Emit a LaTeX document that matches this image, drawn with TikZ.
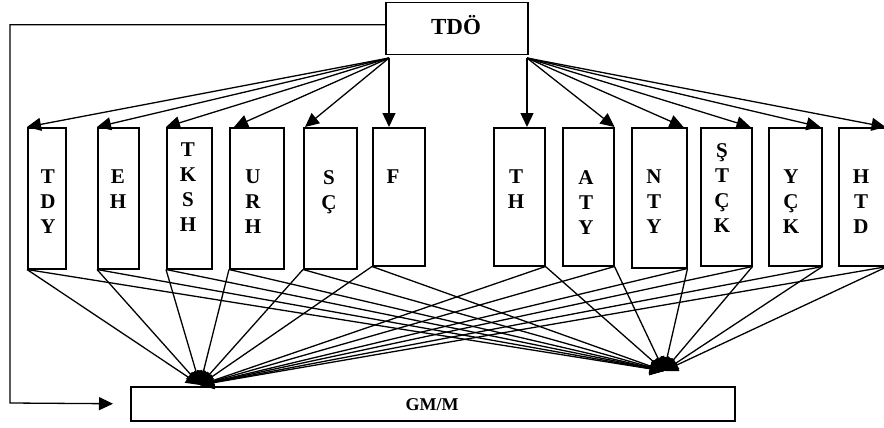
\documentclass[tikz,border=0pt]{standalone}
\usepackage{fontspec}
\setmainfont{Liberation Serif}
\usetikzlibrary{arrows.meta}
\begin{document}
\begin{tikzpicture}[x=1pt,y=-1pt,
  sbox/.style={draw, line width=1.5pt, inner sep=0pt, anchor=north west},
  lbl/.style={font=\fontsize{21}{25}\selectfont\bfseries, align=center, anchor=north, inner sep=0pt},
  arr/.style={-{Triangle[length=14pt,width=13pt]}, line width=1.3pt}]
\path[use as bounding box, clip] (0,0) rectangle (884,428);
% top box
\node[sbox, minimum width=142pt, minimum height=52pt] (tdo) at (385,2) {};
\node[font=\fontsize{23}{26}\selectfont\bfseries] (tdot) at (456,25) {TDÖ};
% middle boxes
\node[sbox, minimum width=38pt, minimum height=141pt] (tdy) at (27,127) {};
\node[sbox, minimum width=41pt, minimum height=141pt] (eh) at (97,127) {};
\node[sbox, minimum width=45pt, minimum height=141pt] (tksh) at (166,127) {};
\node[sbox, minimum width=54pt, minimum height=141pt] (urh) at (229,127) {};
\node[sbox, minimum width=53pt, minimum height=141pt] (sc) at (303,127) {};
\node[sbox, minimum width=52pt, minimum height=138pt] (f) at (372,127) {};
\node[sbox, minimum width=51pt, minimum height=138pt] (th) at (493,127) {};
\node[sbox, minimum width=51pt, minimum height=138pt] (aty) at (562,127) {};
\node[sbox, minimum width=55pt, minimum height=140pt] (nty) at (631,127) {};
\node[sbox, minimum width=51pt, minimum height=138pt] (stck) at (700,127) {};
\node[sbox, minimum width=53pt, minimum height=138pt] (yck) at (768,127) {};
\node[sbox, minimum width=48pt, minimum height=138pt] (htd) at (838,127) {};
% labels
\node[lbl] (tdyt) at (48,170) {T\\D\\Y};
\node[lbl] (eht) at (118,170) {E\\H};
\node[lbl] (tksht) at (188,143) {T\\K\\S\\H};
\node[lbl] (urht) at (253,170) {U\\R\\H};
\node[lbl] (sct) at (329,170) {S\\Ç};
\node[lbl] (ft) at (393,170) {F};
\node[lbl] (tht) at (516,170) {T\\H};
\node[lbl] (atyt) at (586,170) {A\\T\\Y};
\node[lbl] (ntyt) at (654,170) {N\\T\\Y};
\node[lbl] (stckt) at (722,143) {Ş\\T\\Ç\\K};
\node[lbl] (yckt) at (791,170) {Y\\Ç\\K};
\node[lbl] (htdt) at (861,170) {H\\T\\D};
% bottom box
\node[sbox, minimum width=604pt, minimum height=34pt] (gm) at (130,386) {};
\node[font=\fontsize{18}{20}\selectfont\bfseries] (gmt) at (432,405) {GM/M};
% coordinates
\coordinate (fl) at (389,58);
\coordinate (fr) at (527,58);
\coordinate (L) at (200,385);
\coordinate (R) at (664,371);
\coordinate (fb) at (10,403);
% fan from TDO
\draw[arr] (fl) -- (tdy.north west);
\draw[arr] (fl) -- (eh.north west);
\draw[arr] (fl) -- (tksh.north west);
\draw[arr] (fl) -- ([xshift=5pt]urh.north west);
\draw[arr] (fl) -- ([xshift=2pt]sc.north west);
\draw[arr] (fl) -- (fl |- f.north);
\draw[arr] (fr) -- (fr |- th.north);
\draw[arr] (fr) -- (aty.north east);
\draw[arr] (fr) -- ([xshift=-4pt]nty.north east);
\draw[arr] (fr) -- ([xshift=-2pt]stck.north east);
\draw[arr] (fr) -- ([xshift=-2pt]yck.north east);
\draw[arr] (fr) -- ([xshift=-2pt]htd.north east);
% to GM/M
\foreach \n in {tdy,eh,tksh,urh,sc,f} {
  \draw[arr] (\n.south west) -- (L);
  \draw[arr] (\n.south west) -- (R);
}
\foreach \n in {th,aty,nty,stck,yck,htd} {
  \draw[arr] (\n.south east) -- (L);
  \draw[arr] (\n.south east) -- (R);
}
% feedback
\draw[arr] ([yshift=4pt]tdo.west) -| (fb) -- ([xshift=-17pt]gm.west);
\end{tikzpicture}
\end{document}
